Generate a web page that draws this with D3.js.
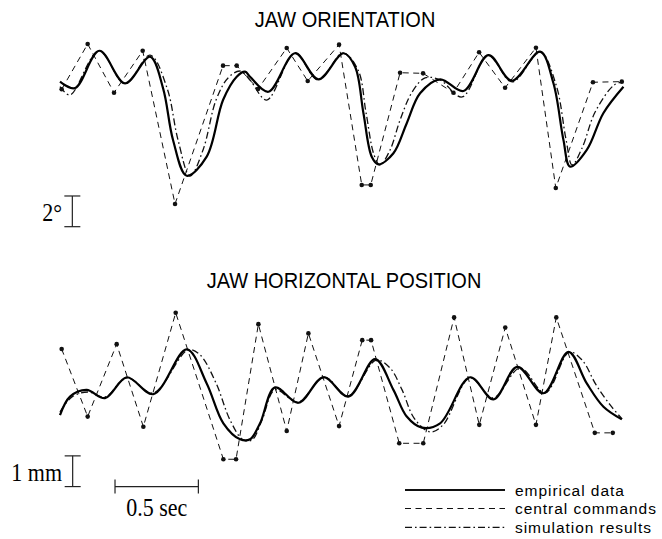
<!DOCTYPE html>
<html>
<head>
<meta charset="utf-8">
<script src="https://cdn.jsdelivr.net/npm/d3@7"></script>
<style>
  body { margin: 0; background: #fff; }
  .title, .legend text { font-family: "Liberation Sans", Arial, sans-serif; }
  .unit { font-family: "Liberation Serif", "Times New Roman", serif; }
</style>
</head>
<body>
<div id="chart"></div>
<script>
// time in seconds, orientation in degrees, position in mm (relative)

// jaw orientation
const oriCmdTime = [0.01, 0.166, 0.324, 0.496, 0.69, 0.978, 1.06, 1.188, 1.36, 1.486, 1.674,
  1.81, 1.864, 2.04, 2.178, 2.36, 2.514, 2.67, 2.855, 2.974, 3.197, 3.37];
const oriCmd = [2.0, 4.95, 1.78, 4.51, -5.47, 3.54, 3.54, 2.02, 4.69, 2.54, 4.91,
  -4.23, -4.23, 3.08, 3.04, 1.78, 4.41, 2.10, 4.71, -4.43, 2.46, 2.5];

const oriEmpTime = [0, 0.09, 0.236, 0.39, 0.54, 0.618, 0.678, 0.76, 0.88, 0.978, 1.06, 1.11,
  1.14, 1.25, 1.41, 1.55, 1.7, 1.77, 1.82, 1.87, 1.91, 2.0, 2.08, 2.16, 2.28, 2.42, 2.57,
  2.71, 2.88, 2.96, 3.02, 3.06, 3.16, 3.26, 3.38];
const oriEmp = [2.5, 2.08, 4.51, 2.39, 4.12, 2.08, -1.3, -3.63, -2.39, 1.3, 2.82, 3.15,
  2.82, 1.84, 4.35, 2.65, 4.35, 3.47, 0.46, -2.39, -2.89, -2.17, -0.21, 1.74, 2.65, 1.89, 4.23,
  2.56, 4.45, 2.39, -1.3, -3.04, -1.95, 0.46, 2.17];

const oriSimTime = [0, 0.06, 0.234, 0.39, 0.54, 0.642, 0.708, 0.78, 0.858, 0.936, 1.008, 1.08,
  1.14, 1.24, 1.41, 1.548, 1.698, 1.788, 1.836, 1.884, 1.92, 1.98, 2.04, 2.112, 2.19, 2.28,
  2.412, 2.568, 2.712, 2.88, 2.976, 3.036, 3.072, 3.132, 3.21, 3.324, 3.378];
const oriSim = [2.17, 1.63, 4.51, 2.35, 4.23, 2.08, -1.3, -3.65, -1.95, 1.3, 2.74, 3.19,
  2.61, 1.3, 4.36, 2.61, 4.36, 3.26, 0.46, -2.28, -2.93, -1.95, 0.0, 1.82, 2.74, 2.61,
  1.5, 4.23, 2.48, 4.43, 2.28, -1.3, -2.93, -1.82, 0.52, 2.28, 2.48];

// jaw horizontal position
const posCmdTime = [0.01, 0.166, 0.34, 0.5, 0.694, 0.98, 1.056, 1.19, 1.36, 1.49, 1.674,
  1.813, 1.866, 2.035, 2.179, 2.364, 2.515, 2.671, 2.855, 2.977, 3.208, 3.316];
const posCmd = [1.66, -0.54, 1.82, -0.87, 2.84, -1.93, -1.93, 2.47, -1.01, 2.17, -0.85,
  1.95, 1.95, -1.41, -1.41, 2.69, -0.81, 2.36, -0.81, 2.69, -1.07, -1.07];

const posEmpTime = [0, 0.06, 0.16, 0.27, 0.4, 0.56, 0.76, 0.88, 0.98, 1.08, 1.14, 1.2, 1.29,
  1.43, 1.58, 1.73, 1.89, 2.0, 2.08, 2.17, 2.28, 2.46, 2.6, 2.743, 2.9, 3.05, 3.16, 3.26, 3.37];
const posEmp = [-0.49, 0.11, 0.33, 0.06, 0.74, 0.19, 1.65, 0.54, -0.76, -1.28, -1.28, -0.76, 0.41,
  -0.09, 0.74, 0.11, 1.33, 0.33, -0.54, -0.9, -0.76, 0.74, 0.02, 1.08, 0.22, 1.57, 0.54, -0.22, -0.63];

const posSimTime = [0, 0.072, 0.168, 0.27, 0.402, 0.558, 0.768, 0.84, 0.936, 1.02, 1.098, 1.152,
  1.212, 1.29, 1.428, 1.584, 1.728, 1.896, 1.98, 2.052, 2.124, 2.22, 2.298, 2.46, 2.598, 2.76,
  2.91, 3.054, 3.132, 3.216, 3.3, 3.372];
const posSim = [-0.39, 0.1, 0.26, 0.1, 0.72, 0.23, 1.63, 1.47, 0.55, -0.65, -1.3, -1.3,
  -0.65, 0.33, -0.07, 0.75, 0.13, 1.3, 1.04, 0.33, -0.59, -1.04, -0.81, 0.72, 0.07, 1.04,
  0.23, 1.56, 1.3, 0.49, -0.16, -0.62];

const titles = ["JAW ORIENTATION", "JAW HORIZONTAL POSITION"];
const legendLabels = ["empirical data", "central commands", "simulation results"];

const zip = (t, v) => t.map((d, i) => [d, v[i]]);

// svg container
const svgWidth = 662, svgHeight = 539;
const svg = d3.select("#chart").append("svg")
  .attr("width", svgWidth)
  .attr("height", svgHeight);

// shared time scale
const x = d3.scaleLinear().domain([0, 3.4]).range([60, 626.8]);

// one y scale per panel
const yOri = d3.scaleLinear().domain([-6, 6]).range([212.1, 27.9]);
const yPos = d3.scaleLinear().domain([-3, 3]).range([492.1, 307.9]);

const styles = {
  emp: { width: 2.2, dash: null },
  cmd: { width: 1, dash: "6,4.5" },
  sim: { width: 1.3, dash: "7,3,1.6,3" }
};

function drawPanel(y, cmd, emp, sim) {
  const g = svg.append("g");
  const smooth = d3.line().x(d => x(d[0])).y(d => y(d[1])).curve(d3.curveCatmullRom.alpha(0.5));
  const straight = d3.line().x(d => x(d[0])).y(d => y(d[1]));

  g.append("path").datum(cmd)
    .attr("d", straight)
    .attr("fill", "none").attr("stroke", "#111")
    .attr("stroke-width", styles.cmd.width).attr("stroke-dasharray", styles.cmd.dash);

  g.selectAll(".dot").data(cmd).enter()
    .append("circle")
    .attr("cx", d => x(d[0]))
    .attr("cy", d => y(d[1]))
    .attr("r", 2.3)
    .attr("fill", "#111");

  g.append("path").datum(sim)
    .attr("d", smooth)
    .attr("fill", "none").attr("stroke", "#111")
    .attr("stroke-width", styles.sim.width).attr("stroke-dasharray", styles.sim.dash);

  g.append("path").datum(emp)
    .attr("d", smooth)
    .attr("fill", "none").attr("stroke", "#000")
    .attr("stroke-width", styles.emp.width);
}

drawPanel(yOri, zip(oriCmdTime, oriCmd), zip(oriEmpTime, oriEmp), zip(oriSimTime, oriSim));
drawPanel(yPos, zip(posCmdTime, posCmd), zip(posEmpTime, posEmp), zip(posSimTime, posSim));

// the scanned lettering is a little taller than it is wide
function label(cls, tx, ty, anchor, size, str) {
  return svg.append("text").attr("class", cls)
    .attr("transform", `translate(${tx},${ty}) scale(1,1.1)`)
    .attr("text-anchor", anchor).attr("font-size", size)
    .text(str);
}

// titles
label("title", 345, 26.5, "middle", 20, titles[0]);
label("title", 344, 287.5, "middle", 20, titles[1]);

// scale bars
function vBar(y, t, v0, v1) {
  const g = svg.append("g").attr("stroke", "#222").attr("stroke-width", 1.2);
  g.append("line").attr("x1", x(t)).attr("x2", x(t)).attr("y1", y(v0)).attr("y2", y(v1));
  [v0, v1].forEach(v => {
    g.append("line").attr("x1", x(t) - 8).attr("x2", x(t) + 8).attr("y1", y(v)).attr("y2", y(v));
  });
}
vBar(yOri, 0.074, -4.95, -6.95);
vBar(yPos, 0.076, -1.82, -2.82);

label("unit", 62, 221, "end", 22, "2°");
label("unit", 62, 480.5, "end", 22, "1 mm");

// time bar
const tb = svg.append("g").attr("stroke", "#222").attr("stroke-width", 1.2);
tb.append("line").attr("x1", x(0.33)).attr("x2", x(0.83)).attr("y1", yPos(-2.82)).attr("y2", yPos(-2.82));
[0.33, 0.83].forEach(t => {
  tb.append("line").attr("x1", x(t)).attr("x2", x(t))
    .attr("y1", yPos(-2.82) - 7).attr("y2", yPos(-2.82) + 7);
});
label("unit", x(0.58), 515.5, "middle", 22, "0.5 sec");

// legend (rows are tight, so a smaller size with wider spacing)
const legend = svg.append("g").attr("class", "legend");
const legendKeys = ["emp", "cmd", "sim"];
const legendY = [490, 508.5, 527.3];
legendKeys.forEach((k, i) => {
  legend.append("line")
    .attr("x1", 405).attr("x2", 505)
    .attr("y1", legendY[i]).attr("y2", legendY[i])
    .attr("stroke", "#111")
    .attr("stroke-width", k === "emp" ? 1.8 : styles[k].width)
    .attr("stroke-dasharray", styles[k].dash);
  legend.append("text")
    .attr("x", 515).attr("y", legendY[i] + 5.5)
    .attr("font-size", 15.5)
    .attr("letter-spacing", 0.95)
    .text(legendLabels[i]);
});
</script>
</body>
</html>
